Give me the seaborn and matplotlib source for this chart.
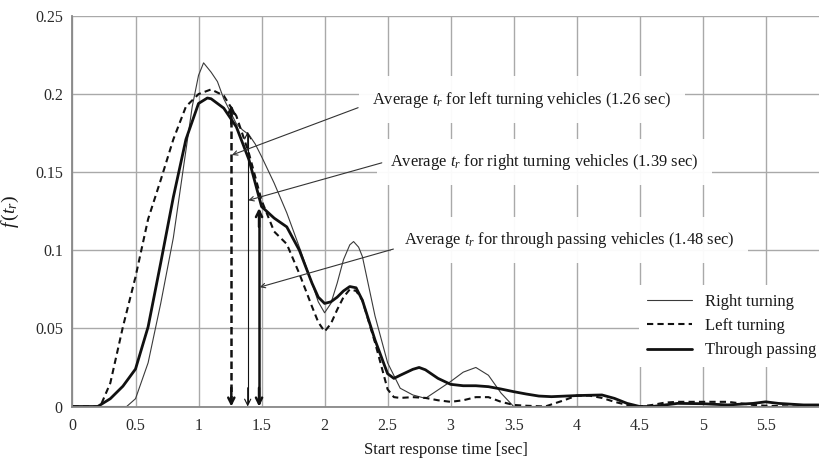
import numpy as np
import pandas as pd
import matplotlib
matplotlib.use("Agg")
import matplotlib.pyplot as plt
import seaborn as sns

# ---- data ----
t_right = [0, 0.43, 0.5, 0.6, 0.7, 0.8, 0.9, 0.95, 1.0, 1.04, 1.1, 1.15, 1.2, 1.25, 1.3, 1.35,
           1.4, 1.45, 1.5, 1.6, 1.7, 1.8, 1.9, 1.95, 2.0, 2.05, 2.1, 2.15, 2.2, 2.23, 2.27, 2.3,
           2.4, 2.5, 2.6, 2.7, 2.8, 2.9, 3.0, 3.1, 3.2, 3.3, 3.4, 3.5, 5.92]
f_right = [0, 0, 0.005, 0.028, 0.066, 0.108, 0.164, 0.192, 0.212, 0.220, 0.214, 0.208, 0.197,
           0.189, 0.181, 0.177, 0.174, 0.168, 0.160, 0.143, 0.124, 0.102, 0.079, 0.067, 0.060,
           0.066, 0.079, 0.094, 0.1035, 0.1056, 0.102, 0.096, 0.058, 0.028, 0.0117, 0.0074,
           0.0052, 0.0106, 0.016, 0.022, 0.025, 0.020, 0.0086, 0, 0]

t_left = [0, 0.22, 0.3, 0.4, 0.5, 0.6, 0.7, 0.8, 0.9, 1.0, 1.1, 1.2, 1.3, 1.4, 1.5, 1.6, 1.7,
          1.8, 1.9, 1.95, 2.0, 2.05, 2.1, 2.15, 2.2, 2.25, 2.3, 2.4, 2.5, 2.55, 2.6, 2.7, 2.8,
          2.9, 3.0, 3.1, 3.2, 3.3, 3.4, 3.5, 3.6, 3.75, 3.9, 4.0, 4.1, 4.2, 4.3, 4.4, 4.5, 4.6,
          4.7, 4.8, 5.0, 5.2, 5.3, 5.4, 5.5, 5.7, 5.92]
f_left = [0, 0, 0.015, 0.051, 0.083, 0.120, 0.145, 0.171, 0.192, 0.200, 0.203, 0.199, 0.186,
          0.162, 0.132, 0.112, 0.104, 0.085, 0.064, 0.054, 0.048, 0.053, 0.062, 0.070, 0.075,
          0.074, 0.068, 0.041, 0.011, 0.006, 0.0055, 0.006, 0.0055, 0.004, 0.003, 0.004, 0.006,
          0.006, 0.003, 0.001, 0.0005, 0, 0.004, 0.007, 0.007, 0.0055, 0.003, 0.001, 0, 0.001,
          0.0025, 0.003, 0.003, 0.003, 0.002, 0.001, 0.0005, 0, 0]

t_through = [0, 0.2, 0.3, 0.4, 0.5, 0.6, 0.7, 0.8, 0.9, 1.0, 1.07, 1.1, 1.2, 1.3, 1.4, 1.5,
             1.6, 1.7, 1.8, 1.9, 1.95, 2.0, 2.05, 2.1, 2.15, 2.2, 2.25, 2.3, 2.4, 2.5, 2.55,
             2.6, 2.7, 2.75, 2.8, 2.9, 3.0, 3.1, 3.2, 3.3, 3.4, 3.5, 3.6, 3.7, 3.8, 4.0, 4.2,
             4.3, 4.4, 4.5, 4.6, 4.8, 5.0, 5.2, 5.4, 5.5, 5.6, 5.8, 5.92]
f_through = [0, 0, 0.005, 0.013, 0.024, 0.051, 0.092, 0.134, 0.171, 0.194, 0.1975, 0.197,
             0.191, 0.179, 0.158, 0.128, 0.1206, 0.115, 0.100, 0.079, 0.070, 0.066, 0.067,
             0.070, 0.074, 0.0768, 0.076, 0.068, 0.0426, 0.021, 0.018, 0.020, 0.0238, 0.025,
             0.0235, 0.018, 0.0142, 0.0133, 0.0133, 0.0127, 0.0112, 0.0095, 0.008, 0.0067,
             0.0063, 0.007, 0.0074, 0.0052, 0.002, 0, 0, 0.002, 0.0018, 0.001, 0.002, 0.003,
             0.002, 0.001, 0.001]

series_labels = ["Right turning", "Left turning", "Through passing"]
avg_times = [1.26, 1.39, 1.48]          # left, right, through
avg_tops = [0.193, 0.176, 0.127]
avg_tips = [0.161, 0.132, 0.0764]
avg_texts = [r"Average $t_r$ for left turning vehicles (1.26 sec)",
             r"Average $t_r$ for right turning vehicles (1.39 sec)",
             r"Average $t_r$ for through passing vehicles (1.48 sec)"]

x_ticks = [0, 0.5, 1, 1.5, 2, 2.5, 3, 3.5, 4, 4.5, 5, 5.5]
x_ticklabels = ["0", "0.5", "1", "1.5", "2", "2.5", "3", "3.5", "4", "4.5", "5", "5.5"]
y_ticks = [0, 0.05, 0.1, 0.15, 0.2, 0.25]
y_ticklabels = ["0", "0.05", "0.1", "0.15", "0.2", "0.25"]

# ---- style ----
sns.set_theme(style="whitegrid")
plt.rcParams["font.family"] = ["Liberation Serif", "DejaVu Serif"]
plt.rcParams["mathtext.fontset"] = "custom"
plt.rcParams["mathtext.rm"] = "Liberation Serif"
plt.rcParams["mathtext.it"] = "Liberation Serif:italic"

fig = plt.figure(figsize=(8.2, 4.62), dpi=100)
ax = fig.add_axes([0.0884, 0.1201, 0.9100, 0.8453])

df_r = pd.DataFrame({"t": t_right, "f": f_right})
df_l = pd.DataFrame({"t": t_left, "f": f_left})
df_t = pd.DataFrame({"t": t_through, "f": f_through})

sns.lineplot(data=df_r, x="t", y="f", ax=ax, color="#3a3a3a", lw=0.8,
             estimator=None, label=series_labels[0])
sns.lineplot(data=df_l, x="t", y="f", ax=ax, color="#111111", lw=1.5,
             estimator=None, label=series_labels[1])
ax.lines[-1].set_dashes((3, 2))
sns.lineplot(data=df_t, x="t", y="f", ax=ax, color="#111111", lw=2.0,
             estimator=None, label=series_labels[2])

# vertical average arrows
v_styles = [dict(ls=(0, (3, 1.6)), lw=1.8), dict(ls="-", lw=0.8), dict(ls="-", lw=1.8)]
for xv, top, st in zip(avg_times, avg_tops, v_styles):
    ax.plot([xv, xv], [0.002, top - 0.002], color="#111111", lw=st["lw"], ls=st["ls"])
    for y0, y1 in [(0.012, 0.0), (top - 0.012, top)]:
        ax.annotate("", xy=(xv, y1), xytext=(xv, y0),
                    arrowprops=dict(arrowstyle="->", lw=st["lw"], color="#111111",
                                    mutation_scale=11, shrinkA=0, shrinkB=0))

# text annotations
text_pos = [(2.377, 0.1965), (2.52, 0.1567), (2.631, 0.1067)]
arrow_start = [(2.266, 0.1913), (2.454, 0.156), (2.546, 0.1008)]
for txt, (tx, ty), (sx, sy), xv, tip in zip(avg_texts, text_pos, arrow_start, avg_times, avg_tips):
    ax.text(tx, ty, txt, ha="left", va="center", fontsize=11.9, color="#1a1a1a", zorder=5,
            bbox=dict(boxstyle="square,pad=0.8", fc="white", ec="none", alpha=0.95))
    ax.annotate("", xy=(xv + 0.005, tip), xytext=(sx, sy), zorder=6,
                arrowprops=dict(arrowstyle="->", lw=0.8, color="#333333",
                                mutation_scale=8, shrinkA=0, shrinkB=0))

ax.set_xlim(0, 5.92)
ax.set_ylim(0, 0.25)
ax.set_xticks(x_ticks)
ax.set_xticklabels(x_ticklabels)
ax.set_yticks(y_ticks)
ax.set_yticklabels(y_ticklabels)
ax.tick_params(axis="both", labelsize=11.5, colors="#2a2a2a", length=0)
ax.tick_params(axis="x", pad=8)
ax.tick_params(axis="y", pad=7)
ax.grid(True, color="#a9a9a9", lw=1.0)
for side in ["top", "right"]:
    ax.spines[side].set_visible(False)
for side in ["left", "bottom"]:
    ax.spines[side].set_visible(True)
    ax.spines[side].set_color("#888888")
    ax.spines[side].set_linewidth(1.3)

ax.set_xlabel("Start response time [sec]", fontsize=12, color="#1a1a1a", labelpad=6)
ax.set_ylabel(r"$f\,(t_r)$", fontsize=14, color="#1a1a1a", labelpad=10)

leg = ax.legend(loc="center left", bbox_to_anchor=(0.759, 0.206), fontsize=12.0,
                frameon=True, framealpha=1, facecolor="white", edgecolor="none",
                fancybox=False, handlelength=2.7, handletextpad=0.75, labelspacing=0.5,
                borderaxespad=0, borderpad=0.5)
leg.set_zorder(7)
for t in leg.get_texts():
    t.set_color("#1a1a1a")

fig.savefig("out.png", dpi=100, facecolor="white")
